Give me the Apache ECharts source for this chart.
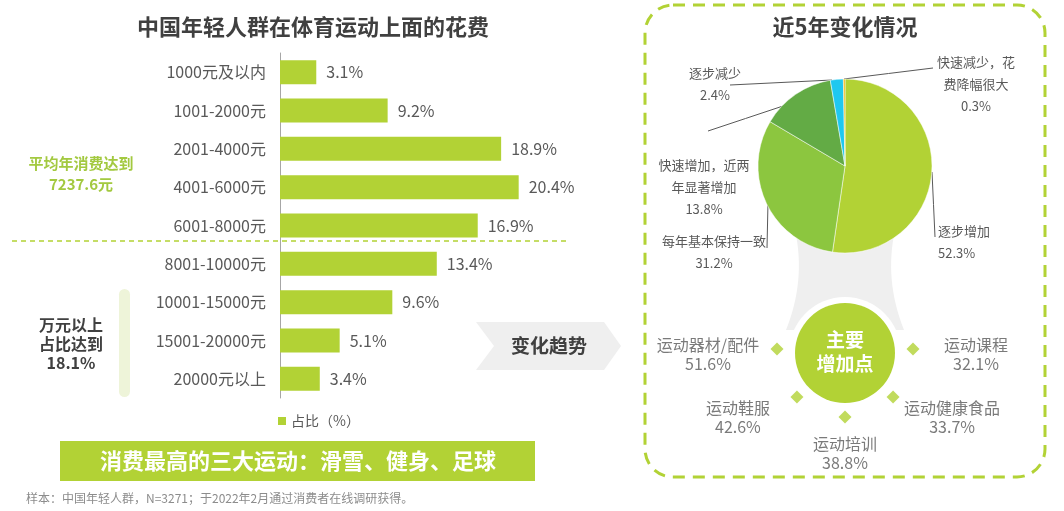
<!DOCTYPE html>
<html>
<head>
<meta charset="utf-8">
<script src="https://cdn.jsdelivr.net/npm/echarts@6/dist/echarts.min.js"></script>
<style>
html,body{margin:0;padding:0;background:#fff;}
#myChart{width:1064px;height:511px;}
</style>
</head>
<body>
<div id="myChart"></div>
<script>
// 消费区间 / 占比
var categories = ['1000元及以内','1001-2000元','2001-4000元','4001-6000元','6001-8000元','8001-10000元','10001-15000元','15001-20000元','20000元以上'];
var shares = [3.1, 9.2, 18.9, 20.4, 16.9, 13.4, 9.6, 5.1, 3.4];

// 近5年变化情况
var trendNames = ['逐步增加','每年基本保持一致','快速增加，近两\n年显著增加','逐步减少','快速减少，花\n费降幅很大'];
var trendValues = [52.3, 31.2, 13.8, 2.4, 0.3];

// 主要增加点
var itemNames = ['运动器材/配件','运动鞋服','运动培训','运动健康食品','运动课程'];
var itemValues = [51.6, 42.6, 38.8, 33.7, 32.1];

var FONT = '"Noto Sans CJK SC","Noto Sans",sans-serif';
var green = '#b2d235';
var trendColors = ['#b2d235','#8cc63f','#63ab45','#1fc8f0','#f0b400'];

// 饼图标签位置 [x, y, align] 和引导线端点
var pieLabelPos = [
    [938, 242, 'left'],
    [714, 252, 'center'],
    [704, 187, 'center'],
    [715, 84, 'center'],
    [976, 84, 'center']
];
var pieGuide = [
    [[932, 172], [935, 237]],
    [[768, 202], [767, 248]],
    [[783, 106], [708, 131]],
    [[832, 80], [730, 85]],
    [[844, 79], [933, 68]]
];
// 增加点文字相对菱形的偏移
var itemOffsets = [[-69, 5], [-59, 20], [0, 36], [59, 20], [63, 5]];

var myChart = echarts.init(document.getElementById('myChart'));

function txt(x, y, text, font, fill, align, extra) {
    var st = {
        x: x, y: y, text: text, font: font, fill: fill,
        textAlign: align || 'center', align: align || 'center',
        textVerticalAlign: 'middle', verticalAlign: 'middle'
    };
    if (extra) {
        for (var k in extra) st[k] = extra[k];
    }
    return {type: 'text', z: 5, style: st};
}

// 饼图下方的灰色连接带（两条二次曲线围成）
function funnelPoints() {
    var pts = [];
    var t, n = 16;
    for (t = 0; t <= n; t++) {
        var u = t / n;
        pts.push([(1-u)*(1-u)*795 + 2*u*(1-u)*806 + u*u*786, (1-u)*(1-u)*230 + 2*u*(1-u)*280 + u*u*330]);
    }
    for (t = n; t >= 0; t--) {
        var v = t / n;
        pts.push([(1-v)*(1-v)*895 + 2*v*(1-v)*884 + v*v*904, (1-v)*(1-v)*230 + 2*v*(1-v)*280 + v*v*330]);
    }
    return pts;
}

var pieData = [];
for (var i = 0; i < trendNames.length; i++) {
    pieData.push({name: trendNames[i], value: trendValues[i], itemStyle: {color: trendColors[i]}});
}

var itemData = [];
for (var j = 0; j < itemNames.length; j++) {
    itemData.push({name: itemNames[j], value: [1, j], label: {offset: itemOffsets[j]}});
}

var option = {
    animation: false,
    backgroundColor: '#fff',
    textStyle: {fontFamily: FONT},
    legend: {
        data: ['占比（%）'],
        left: 278,
        top: 414,
        padding: 0,
        icon: 'rect',
        itemWidth: 8,
        itemHeight: 8,
        itemGap: 5,
        textStyle: {fontSize: 14, color: '#595959', fontFamily: FONT}
    },
    grid: {left: 280, top: 53, width: 292.5, height: 345},
    xAxis: {type: 'value', min: 0, max: 25, show: false},
    yAxis: {
        type: 'category',
        data: categories,
        inverse: true,
        axisLine: {show: true, lineStyle: {color: '#a6a6a6', width: 1}},
        axisTick: {show: false},
        splitLine: {show: false},
        axisLabel: {fontSize: 16, color: '#595959', margin: 14, fontFamily: FONT}
    },
    polar: {center: [845, 349], radius: 68},
    angleAxis: {type: 'value', min: 0, max: 8, startAngle: 180, clockwise: false, show: false},
    radiusAxis: {type: 'value', min: 0, max: 1, show: false},
    series: [
        {
            name: '占比（%）',
            type: 'bar',
            data: shares,
            barWidth: 24,
            itemStyle: {color: green},
            label: {
                show: true,
                position: 'right',
                distance: 10,
                formatter: '{c}%',
                fontSize: 16,
                color: '#595959',
                fontFamily: FONT
            }
        },
        {
            name: '近5年变化情况',
            type: 'pie',
            center: [845, 166],
            radius: 87,
            startAngle: 90,
            clockwise: true,
            data: pieData,
            itemStyle: {borderColor: '#fff', borderWidth: 0.5},
            label: {
                show: true,
                formatter: '{b}\n{c}%',
                fontSize: 13,
                lineHeight: 22,
                color: '#595959',
                fontFamily: FONT
            },
            labelLine: {show: true, length: 10, length2: 10, lineStyle: {color: '#595959', width: 1}},
            labelLayout: function (params) {
                var p = pieLabelPos[params.dataIndex];
                var g = pieGuide[params.dataIndex];
                var mid = [(g[0][0] + g[1][0]) / 2, (g[0][1] + g[1][1]) / 2];
                return {x: p[0], y: p[1], align: p[2], verticalAlign: 'middle', labelLinePoints: [g[0], mid, g[1]]};
            },
            emphasis: {disabled: true}
        },
        {
            name: '主要增加点',
            type: 'scatter',
            coordinateSystem: 'polar',
            symbol: 'diamond',
            symbolSize: 13,
            itemStyle: {color: green},
            data: itemData,
            silent: true,
            z: 6,
            label: {
                show: true,
                position: 'inside',
                align: 'center',
                verticalAlign: 'middle',
                fontSize: 16,
                lineHeight: 19,
                color: '#595959',
                fontFamily: FONT,
                formatter: function (p) {
                    return p.name + '\n' + itemValues[p.dataIndex] + '%';
                }
            }
        }
    ],
    graphic: [
        // 左侧
        txt(313, 27, '中国年轻人群在体育运动上面的花费', 'bold 22px ' + FONT, '#404040'),
        txt(81, 174, '平均年消费达到\n7237.6元', 'bold 15px ' + FONT, '#a3c940', 'center', {lineHeight: 21}),
        {type: 'line', z: 1, shape: {x1: 12, y1: 241, x2: 566, y2: 241},
            style: {stroke: green, lineWidth: 1.5, lineDash: [5, 4]}},
        {type: 'rect', z: 1, shape: {x: 119, y: 289, width: 11, height: 108, r: 5.5},
            style: {fill: '#eef4d9'}},
        txt(71, 344, '万元以上\n占比达到\n18.1%', 'bold 16px ' + FONT, '#404040', 'center', {lineHeight: 19}),
        {type: 'rect', z: 1, shape: {x: 60, y: 441, width: 475, height: 40},
            style: {fill: green}},
        txt(298, 461, '消费最高的三大运动：滑雪、健身、足球', 'bold 22px ' + FONT, '#fff'),
        txt(26, 498, '样本：中国年轻人群，N=3271；于2022年2月通过消费者在线调研获得。', '12px ' + FONT, '#8c8c8c', 'left'),
        // 变化趋势箭头
        {type: 'polygon', z: 1, shape: {points: [[476, 322], [604, 322], [621, 346], [604, 370], [476, 370], [494, 346]]},
            style: {fill: '#efefef'}},
        txt(549, 346, '变化趋势', 'bold 19px ' + FONT, '#404040'),
        // 右侧虚线框
        {type: 'rect', z: 1, shape: {x: 645, y: 5, width: 400, height: 472, r: 28},
            style: {fill: 'none', stroke: green, lineWidth: 3, lineDash: [12, 8]}},
        txt(845, 27, '近5年变化情况', 'bold 22px ' + FONT, '#404040'),
        {type: 'polygon', z: 0, shape: {points: funnelPoints()}, style: {fill: '#efefef'}},
        {type: 'circle', z: 3, shape: {cx: 845, cy: 353, r: 56}, style: {fill: '#fff'}},
        {type: 'circle', z: 4, shape: {cx: 845, cy: 353, r: 50}, style: {fill: green}},
        txt(845, 352, '主要\n增加点', 'bold 19px ' + FONT, '#fff', 'center', {lineHeight: 24})
    ]
};

myChart.setOption(option);
</script>
</body>
</html>
